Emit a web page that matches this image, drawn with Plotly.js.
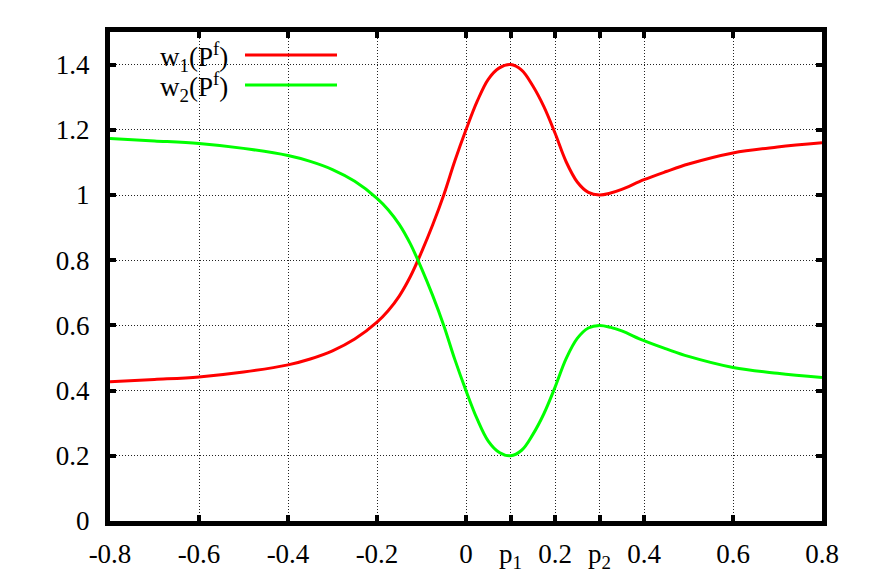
<!DOCTYPE html>
<html>
<head>
<meta charset="utf-8">
<script src="https://cdn.plot.ly/plotly-3.0.1.min.js"></script>
<style>
  html, body { margin: 0; padding: 0; background: #fff; }
  #grafica { width: 872px; height: 580px; }
</style>
</head>
<body>
<div id="grafica"></div>
<script>
// valores
const xs = [-0.8, -0.7, -0.6, -0.5, -0.4, -0.35, -0.3, -0.25, -0.2, -0.175, -0.15, -0.125,
  -0.1, -0.075, -0.05, -0.025, 0, 0.025, 0.05, 0.075, 0.1, 0.125, 0.15, 0.175, 0.2,
  0.225, 0.25, 0.275, 0.3, 0.325, 0.35, 0.4, 0.45, 0.5, 0.6, 0.7, 0.8];

const w1 = [0.427, 0.434, 0.442, 0.457, 0.479, 0.497, 0.522, 0.558, 0.61, 0.645, 0.69, 0.75,
  0.825, 0.908, 1.0, 1.105, 1.2, 1.287, 1.355, 1.39, 1.4, 1.383, 1.335, 1.271, 1.19,
  1.102, 1.04, 1.008, 1.0, 1.006, 1.017, 1.047, 1.072, 1.095, 1.129, 1.147, 1.16];

const w2 = [1.173, 1.166, 1.158, 1.143, 1.121, 1.103, 1.078, 1.042, 0.99, 0.955, 0.91, 0.85,
  0.775, 0.692, 0.6, 0.495, 0.4, 0.313, 0.245, 0.21, 0.2, 0.217, 0.265, 0.329, 0.41,
  0.498, 0.56, 0.592, 0.6, 0.594, 0.583, 0.553, 0.528, 0.505, 0.471, 0.453, 0.44];

const xTicks = [-0.8, -0.6, -0.4, -0.2, 0, 0.1, 0.2, 0.3, 0.4, 0.6, 0.8];
const xTickText = ['-0.8', '-0.6', '-0.4', '-0.2', '0', 'p<sub>1</sub>', '0.2', 'p<sub>2</sub>', '0.4', '0.6', '0.8'];
const yTicks = [0, 0.2, 0.4, 0.6, 0.8, 1, 1.2, 1.4];
const yTickText = ['0', '0.2', '0.4', '0.6', '0.8', '1', '1.2', '1.4'];

const nombres = ['w<sub>1</sub>(P<sup>f</sup>)', 'w<sub>2</sub>(P<sup>f</sup>)'];
const colores = ['#ff0000', '#00ff00'];

const trazos = [w1, w2].map((ys, i) => ({
  x: xs,
  y: ys,
  type: 'scatter',
  mode: 'lines',
  name: nombres[i],
  line: { color: colores[i], width: 3, shape: 'spline', smoothing: 1 },
  hoverinfo: 'skip'
}));

// leyenda al estilo gnuplot: texto a la izquierda, muestra de linea a la derecha
const L = 110, R = 822, T = 32, B = 521;
const px = v => (v - L) / (R - L);
const py = v => (B - v) / (B - T);
const filas = [55, 85];

const shapes = [{
  type: 'rect', xref: 'paper', yref: 'paper',
  x0: px(128), x1: px(352), y0: py(101), y1: 1,
  fillcolor: '#fff', line: { width: 0 }, layer: 'between'
}];
const annotations = [];
filas.forEach((fy, i) => {
  shapes.push({
    type: 'line', xref: 'paper', yref: 'paper',
    x0: px(245), x1: px(337), y0: py(fy), y1: py(fy),
    line: { color: colores[i], width: 3 }
  });
  annotations.push({
    xref: 'paper', yref: 'paper', x: px(230), y: py(fy + 2),
    xanchor: 'right', yanchor: 'middle', showarrow: false,
    text: nombres[i],
    font: { family: 'Liberation Serif', size: 27, color: '#000' }
  });
});

Plotly.newPlot('grafica', trazos, {
  width: 872, height: 580,
  margin: { l: L, r: 872 - R, t: T, b: 580 - B },
  paper_bgcolor: '#fff', plot_bgcolor: '#fff',
  showlegend: false,
  font: { family: 'Liberation Serif', size: 27, color: '#000' },
  xaxis: {
    range: [-0.8, 0.8], tickmode: 'array', tickvals: xTicks, ticktext: xTickText,
    showline: true, linewidth: 5, linecolor: '#000', mirror: 'ticks',
    ticks: 'inside', ticklen: 6, tickwidth: 4, tickcolor: '#000',
    showgrid: true, gridcolor: '#222', gridwidth: 1, griddash: '1px,2px',
    zeroline: false, fixedrange: true,
    tickfont: { family: 'Liberation Serif', size: 27, color: '#000' },
    ticklabelstandoff: 5
  },
  yaxis: {
    range: [0, 1.5], tickmode: 'array', tickvals: yTicks, ticktext: yTickText,
    showline: true, linewidth: 5, linecolor: '#000', mirror: 'ticks',
    ticks: 'inside', ticklen: 6, tickwidth: 4, tickcolor: '#000',
    showgrid: true, gridcolor: '#222', gridwidth: 1, griddash: '1px,2px',
    zeroline: false, fixedrange: true,
    tickfont: { family: 'Liberation Serif', size: 27, color: '#000' },
    ticklabelstandoff: 10
  },
  shapes: shapes,
  annotations: annotations
}, { displayModeBar: false });
</script>
</body>
</html>
